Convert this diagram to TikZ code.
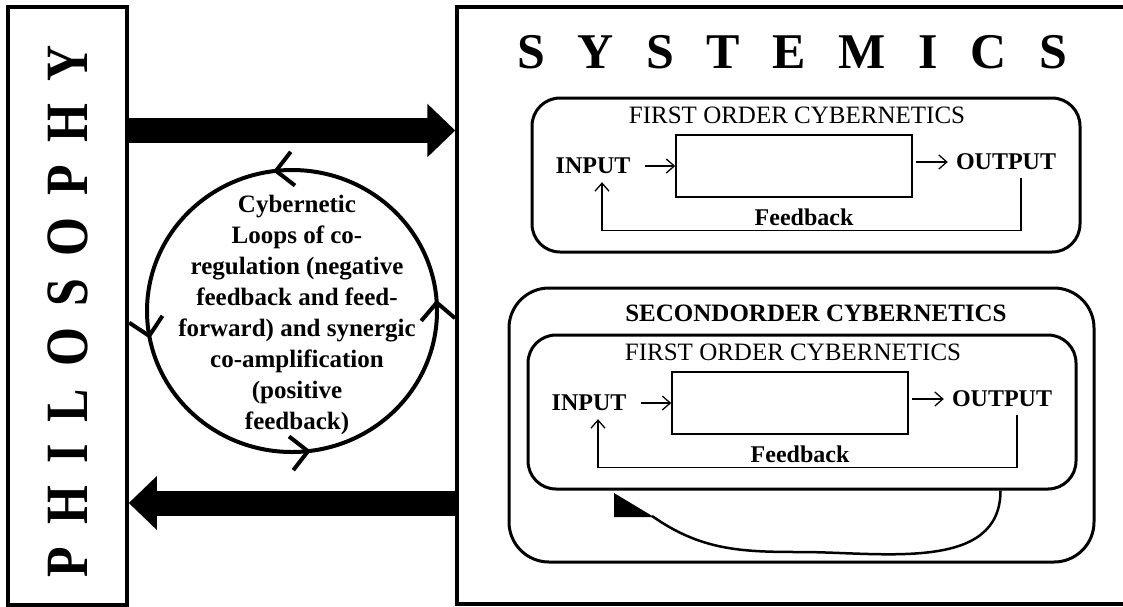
\documentclass[tikz,border=0pt]{standalone}
\usepackage{fontspec}
\setmainfont{Liberation Serif}
\usetikzlibrary{arrows.meta,decorations.markings,calc}

\newcommand{\firstorder}[2]{%
  \begin{scope}[shift={#2}]
    \node[roundbox, minimum width=548pt, minimum height=154pt] (#1box) at (274,77) {};
    \node[titletext] (#1title) at (265,17) {FIRST ORDER CYBERNETICS};
    \node[blockbox, minimum width=236pt, minimum height=62pt] (#1blk) at (262,68) {};
    \node[labeltext] (#1in) at (61,68) {INPUT};
    \node[labeltext] (#1out) at (474,64) {OUTPUT};
    \node[labeltext] (#1fb) at (272,119) {Feedback};
    \draw[thinarrow, shorten <=6pt] (#1in) -- (#1blk);
    \draw[thinarrow, shorten <=3pt] (#1blk.east |- #1out) -- (#1out);
    \draw[thinarrow] ([xshift=15pt]#1out.south) -- ++(0,52) -| ([xshift=9pt]#1in.south);
  \end{scope}}

\begin{document}
\begin{tikzpicture}[x=1pt, y=-1pt,
  frame/.style={draw, line width=3.5pt, inner sep=0pt},
  roundbox/.style={draw, line width=3pt, rounded corners=28pt, inner sep=0pt},
  blockbox/.style={draw, line width=1.5pt, inner sep=0pt},
  titletext/.style={inner sep=0pt, font=\fontsize{25}{30}\selectfont},
  labeltext/.style={inner sep=8pt, font=\fontsize{24}{29}\selectfont\bfseries},
  thinarrow/.style={line width=1.3pt, -{Straight Barb[length=8pt,width=14pt]}},
  bigarrow/.style={line width=25pt, -{Triangle[length=28pt,width=52pt]}},
  loopline/.style={line width=4pt, postaction={decorate},
    decoration={markings,
      mark=at position 0.229 with {\arrowreversed{Straight Barb[length=17pt,width=34pt]}},
      mark=at position 0.469 with {\arrowreversed{Straight Barb[length=17pt,width=34pt]}},
      mark=at position 0.729 with {\arrowreversed{Straight Barb[length=17pt,width=34pt]}},
      mark=at position 0.9875 with {\arrowreversed{Straight Barb[length=17pt,width=34pt]}}}}]
\useasboundingbox (0,0) rectangle (1123,606);

\node[frame, minimum width=119pt, minimum height=598pt] (phil) at (67.5,306) {};
\node[frame, minimum width=690pt, minimum height=597pt] (sys) at (802,305.5) {};

\node[rotate=90, inner sep=0pt, font=\fontsize{50}{60}\selectfont\bfseries] (philtext) at (68,311.5)
  {\scalebox{1}[1.2]{P\hspace{22pt}H\hspace{22pt}I\hspace{22pt}L\hspace{22pt}O\hspace{22pt}S\hspace{22pt}O\hspace{22pt}P\hspace{22pt}H\hspace{22pt}Y}};
\node[anchor=base, inner sep=0pt, font=\fontsize{50}{60}\selectfont\bfseries] (systext) at (792,68)
  {S\hspace{32.6pt}Y\hspace{32.6pt}S\hspace{32.6pt}T\hspace{32.6pt}E\hspace{32.6pt}M\hspace{32.6pt}I\hspace{32.6pt}C\hspace{32.6pt}S};

\coordinate (hi) at (0,130.5);
\coordinate (lo) at (0,503);
\draw[bigarrow] (phil.east |- hi) -- (sys.west |- hi);
\draw[bigarrow] (sys.west |- lo) -- (phil.east |- lo);

\draw[loopline] (292,311) ellipse [x radius=145, y radius=141];
\node[align=center, inner sep=0pt, font=\fontsize{25}{31}\selectfont\bfseries] (looptext) at (297,315)
  {Cybernetic\\Loops of co-\\regulation (negative\\feedback and feed-\\forward) and synergic\\co-amplification\\(positive\\feedback)};

\firstorder{fo1}{(532,98)}

\node[roundbox, rounded corners=40pt, minimum width=585pt, minimum height=274pt] (sec) at (801.5,425) {};
\node[labeltext, font=\fontsize{25}{30}\selectfont\bfseries] (sectitle) at (816,313) {SECONDORDER CYBERNETICS};

\firstorder{fo2}{(528,335)}

\coordinate (arcstart) at ($(fo2box.south west)+(474,0)$);
\coordinate (arcend) at (652,516);
\draw[line width=2.5pt] (arcstart) to[out=-90,in=0] (800,552) to[out=180,in=-35] (arcend);
\fill (614,493) -- (614,517) -- (654,517) -- cycle;
\end{tikzpicture}
\end{document}
